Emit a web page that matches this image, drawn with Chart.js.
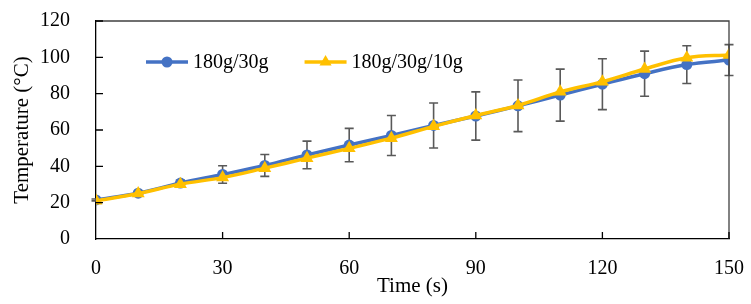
<!DOCTYPE html>
<html>
<head>
<meta charset="utf-8">
<script src="https://cdn.jsdelivr.net/npm/chart.js@4/dist/chart.umd.min.js"></script>
<style>
    html, body { margin: 0; padding: 0; background: #fff; }
    #wrap { width: 751px; height: 304px; }
</style>
</head>
<body>
<div id="wrap"><canvas id="chart" width="751" height="304"></canvas></div>
<script>
// time axis (s)
const times = [0, 10, 20, 30, 40, 50, 60, 70, 80, 90, 100, 110, 120, 130, 140, 150];
// temperature series (°C)
const temp180_30 = [21.5, 25.2, 30.8, 35.5, 40.5, 46.3, 51.7, 57, 62.5, 67.7, 73.3, 79.2, 85.2, 91, 96, 98.5];
const temp180_30_10 = [21, 25, 30.2, 33.8, 39, 44.5, 49.9, 55.5, 62, 68, 73.5, 81, 86.6, 93.6, 99.8, 101.3];
// error bar half-widths (on the 180g/30g series)
const errors = [0.5, 0.8, 1.5, 4.8, 6, 7.6, 9.2, 11, 12.4, 13.3, 14.2, 14.3, 14, 12.4, 10.4, 8.5];
const seriesNames = ["180g/30g", "180g/30g/10g"];
const xTicks = [0, 30, 60, 90, 120, 150];
const yTicks = [0, 20, 40, 60, 80, 100, 120];

const FONT = "'Liberation Serif', 'Times New Roman', serif";
const BLUE = "#4472C4";
const GOLD = "#FFC000";

function toPoints(ys) {
    return times.map(function(t, i) { return { x: t, y: ys[i] }; });
}

// error bars, drawn under the lines
const errorBars = {
    id: "errorBars",
    beforeDatasetsDraw(chart) {
        const ctx = chart.ctx;
        const xs = chart.scales.x, ys = chart.scales.y;
        ctx.save();
        ctx.strokeStyle = "#595959";
        ctx.lineWidth = 1.6;
        times.forEach(function(t, i) {
            const px = xs.getPixelForValue(t);
            const top = ys.getPixelForValue(temp180_30[i] + errors[i]);
            const bot = ys.getPixelForValue(temp180_30[i] - errors[i]);
            ctx.beginPath();
            ctx.moveTo(px, top); ctx.lineTo(px, bot);
            ctx.moveTo(px - 4.5, top); ctx.lineTo(px + 4.5, top);
            ctx.moveTo(px - 4.5, bot); ctx.lineTo(px + 4.5, bot);
            ctx.stroke();
        });
        ctx.restore();
    }
};

// frame (top/right), inward tick marks, legend inside plot
const frameAndLegend = {
    id: "frameAndLegend",
    afterDraw(chart) {
        const ctx = chart.ctx;
        const a = chart.chartArea;
        const xs = chart.scales.x, ys = chart.scales.y;
        ctx.save();
        ctx.strokeStyle = "#404040";
        ctx.lineWidth = 1.3;
        ctx.beginPath();
        ctx.moveTo(a.left, a.top); ctx.lineTo(a.right, a.top); ctx.lineTo(a.right, a.bottom);
        ctx.stroke();

        ctx.strokeStyle = "#000";
        ctx.beginPath();
        xTicks.forEach(function(v) {
            if (v === 0) return;
            const px = xs.getPixelForValue(v);
            ctx.moveTo(px, a.bottom); ctx.lineTo(px, a.bottom - 7);
        });
        yTicks.forEach(function(v) {
            if (v === 0) return;
            const py = ys.getPixelForValue(v);
            ctx.moveTo(a.left, py); ctx.lineTo(a.left + 7, py);
        });
        ctx.stroke();

        // legend
        ctx.font = "20px " + FONT;
        ctx.textBaseline = "middle";
        ctx.fillStyle = "#000";
        const ly = a.top + 41;
        let lx = a.left + 50;
        chart.data.datasets.forEach(function(ds, i) {
            ctx.strokeStyle = ds.borderColor;
            ctx.lineWidth = 3.5;
            ctx.beginPath();
            ctx.moveTo(lx, ly); ctx.lineTo(lx + 42, ly);
            ctx.stroke();
            ctx.fillStyle = ds.backgroundColor;
            ctx.beginPath();
            if (ds.pointStyle === "triangle") {
                const r = 7, cx = lx + 21;
                ctx.moveTo(cx, ly - r);
                ctx.lineTo(cx + r * 0.866, ly + r * 0.5);
                ctx.lineTo(cx - r * 0.866, ly + r * 0.5);
                ctx.closePath();
            } else {
                ctx.arc(lx + 21, ly, 5.5, 0, Math.PI * 2);
            }
            ctx.fill();
            ctx.fillStyle = "#000";
            ctx.fillText(ds.label, lx + 47, ly + 1);
            lx += 47 + ctx.measureText(ds.label).width + 36;
        });
        ctx.restore();
    }
};

new Chart(document.getElementById("chart").getContext("2d"), {
    type: "line",
    data: {
        datasets: [{
            label: seriesNames[0],
            data: toPoints(temp180_30),
            borderColor: BLUE,
            backgroundColor: BLUE,
            borderWidth: 3.5,
            pointStyle: "circle",
            pointRadius: 5.5,
            pointBorderWidth: 0,
            tension: 0.35,
            order: 2
        }, {
            label: seriesNames[1],
            data: toPoints(temp180_30_10),
            borderColor: GOLD,
            backgroundColor: GOLD,
            borderWidth: 3.5,
            pointStyle: "triangle",
            pointRadius: 7.5,
            pointBorderWidth: 0,
            tension: 0.35,
            order: 1
        }]
    },
    options: {
        responsive: false,
        animation: false,
        layout: { padding: { top: 21, right: 22, left: 0, bottom: 0 } },
        plugins: {
            legend: { display: false },
            tooltip: { enabled: false }
        },
        scales: {
            x: {
                type: "linear",
                min: 0,
                max: 150,
                afterBuildTicks: function(s) { s.ticks = xTicks.map(function(v) { return { value: v }; }); },
                grid: { display: false, drawTicks: false },
                border: { display: true, color: "#000", width: 1.3 },
                ticks: { padding: 18, color: "#000", font: { family: FONT, size: 20 }, maxRotation: 0 },
                title: { display: true, text: "Time (s)", color: "#000", font: { family: FONT, size: 21 }, padding: { top: 0, bottom: 5 } },
                afterFit: function(s) { s.height = 65; s.paddingLeft = 0; s.paddingRight = 0; }
            },
            y: {
                min: 0,
                max: 120,
                afterBuildTicks: function(s) { s.ticks = yTicks.map(function(v) { return { value: v }; }); },
                grid: { display: false, drawTicks: false },
                border: { display: true, color: "#000", width: 1.3 },
                ticks: { padding: 26, color: "#000", font: { family: FONT, size: 20 } },
                title: { display: true, text: "Temperature (°C)", color: "#000", font: { family: FONT, size: 21 }, padding: { top: 10, bottom: 0 } },
                afterFit: function(s) { s.width = 96; s.paddingTop = 0; s.paddingBottom = 0; }
            }
        }
    },
    plugins: [errorBars, frameAndLegend]
});
</script>
</body>
</html>
